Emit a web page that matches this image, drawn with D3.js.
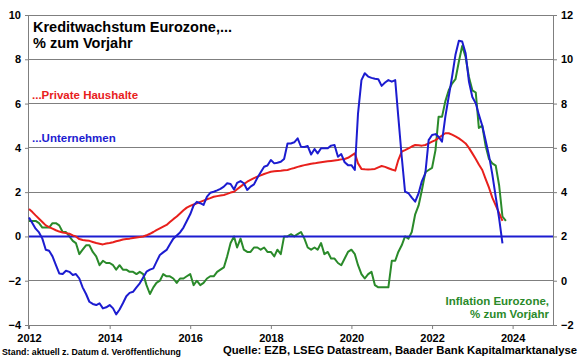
<!DOCTYPE html>
<html><head><meta charset="utf-8">
<script src="https://cdn.jsdelivr.net/npm/d3@7"></script>
<style>
html,body{margin:0;padding:0;background:#fff;}
svg{display:block;font-family:"Liberation Sans",Arial,sans-serif;font-weight:bold;}
</style></head>
<body><svg id="c" width="580" height="359"></svg>
<script>
// ---- DATA (monthly, starting Jan 2012) ----
const startMonth = "2012-01";
const households = [1.24,1.1,0.95,0.8,0.65,0.5,0.42,0.35,0.28,0.22,0.18,0.15,
0.12,0.05,0,-0.12,-0.16,-0.18,-0.2,-0.25,-0.3,-0.33,-0.36,-0.32,
-0.3,-0.26,-0.22,-0.18,-0.14,-0.12,-0.1,-0.07,-0.05,-0.03,0,0.05,
0.12,0.2,0.28,0.36,0.44,0.52,0.65,0.78,0.9,1.04,1.18,1.3,
1.38,1.44,1.5,1.56,1.62,1.68,1.73,1.79,1.82,1.85,1.87,1.92,
1.98,2.02,2.13,2.25,2.36,2.47,2.55,2.63,2.7,2.76,2.82,2.87,
2.92,2.94,2.96,2.97,2.99,3.0,3.05,3.09,3.14,3.18,3.22,3.25,
3.28,3.3,3.33,3.35,3.37,3.39,3.41,3.43,3.45,3.48,3.5,3.55,
3.65,3.75,3.3,3.05,3.03,3.02,3.03,3.05,3.12,3.18,3.14,3.08,
3.02,2.97,3.45,3.83,3.9,3.98,4.06,4.13,4.12,4.1,4.13,4.2,
4.28,4.35,4.45,4.56,4.66,4.66,4.6,4.52,4.43,4.32,4.2,4.0,
3.75,3.5,3.25,3.0,2.6,2.2,1.75,1.4,1.05,0.7];
const corporates = [0.86,0.6,0.35,0.18,-0.1,-0.6,-0.65,-0.9,-1.3,-1.67,-1.7,-1.55,
-1.6,-1.74,-1.7,-1.9,-2.3,-2.6,-2.95,-3.05,-3.1,-3.02,-3.25,-3.2,
-3.1,-3.25,-3.52,-3.3,-3.02,-2.7,-2.55,-2.5,-2.3,-2.12,-1.85,-1.59,
-1.5,-1.44,-1.15,-0.84,-0.72,-0.61,-0.35,-0.1,0.04,0.18,0.4,0.7,
1.0,1.4,1.56,1.5,1.42,1.8,1.97,2.02,2.08,2.15,2.25,2.4,
2.37,2.12,2.42,2.5,2.4,2.1,2.25,2.35,2.65,2.9,3.15,3.2,
3.45,3.3,3.33,3.37,3.5,4.2,4.2,4.25,4.43,4.05,4.04,4.08,
3.7,3.95,3.75,3.98,3.98,3.98,4.1,4.13,3.6,3.72,3.35,3.22,
3.22,3.0,5.56,7.06,7.37,7.22,7.16,7.12,7.1,6.8,6.95,7.06,
6.99,7.06,5.4,3.6,2.02,1.95,1.75,1.57,1.95,2.5,2.85,4.35,
4.58,4.62,4.5,4.28,5.4,6.31,7.2,8.2,8.84,8.8,8.27,7.0,
6.3,6.01,5.5,5.0,4.35,3.65,2.8,1.79,0.8,-0.31];
const inflation = [2.7,2.7,2.7,2.6,2.4,2.4,2.4,2.6,2.6,2.5,2.2,2.2,
2.0,1.8,1.7,1.2,1.4,1.6,1.6,1.3,1.1,0.7,0.9,0.8,
0.8,0.7,0.5,0.7,0.5,0.5,0.4,0.4,0.3,0.4,0.3,-0.2,
-0.6,-0.3,-0.1,0.0,0.3,0.2,0.2,0.1,-0.1,0.1,0.1,0.2,
0.3,-0.2,0.0,-0.2,-0.1,0.1,0.2,0.2,0.4,0.5,0.6,1.1,
1.7,2.0,1.5,1.9,1.4,1.3,1.3,1.5,1.5,1.4,1.5,1.3,
1.3,1.1,1.4,1.2,2.0,2.0,2.1,2.0,2.1,2.2,1.9,1.5,
1.4,1.5,1.4,1.7,1.2,1.3,1.0,1.0,0.8,0.7,1.0,1.3,
1.4,1.2,0.7,0.3,0.1,0.3,0.4,-0.2,-0.3,-0.3,-0.3,-0.3,
0.9,0.9,1.3,1.6,2.0,1.9,2.2,3.0,3.4,4.1,4.9,5.0,
5.1,5.9,7.4,7.4,8.1,8.6,8.9,9.1,9.9,10.6,10.1,9.2,
8.6,8.5,6.9,7.0,6.1,5.5,5.3,5.2,4.3,2.9,2.7];
const leftTicks = [-4,-2,0,2,4,6,8,10];
const rightTicks = [-2,0,2,4,6,8,10,12];
const yearTicks = [2012,2014,2016,2018,2020,2022,2024];
const targetLine = 2; // inflation target, right axis

// ---- SETUP ----
const svg = d3.select("#c");
const L = 29, R = 553, T = 15, B = 325;
const parse = d3.timeParse("%Y-%m");
const t0 = parse(startMonth);
const dateOf = i => d3.timeMonth.offset(t0, i);
const x = d3.scaleTime().domain([new Date(2012,0,1), new Date(2025,0,1)]).range([L, R]);
const yL = d3.scaleLinear().domain([-4,10]).range([B, T]);
const yR = d3.scaleLinear().domain([-2,12]).range([B, T]);

const gridC = "#7f7f7f";
const RED = "#e8201c", BLUE = "#1c1cd0", GREEN = "#2a8a2a";

// gridlines
svg.append("g").selectAll("line").data(leftTicks).join("line")
  .attr("x1", L).attr("x2", R).attr("y1", d => yL(d)).attr("y2", d => yL(d))
  .attr("stroke", gridC).attr("stroke-width", 1).attr("shape-rendering","crispEdges");

// axes
const axL = d3.axisLeft(yL).tickValues(leftTicks).tickSize(4).tickPadding(4).tickFormat(d3.format("d"));
const axR = d3.axisRight(yR).tickValues(rightTicks).tickSize(4).tickPadding(4).tickFormat(d3.format("d"));
const axB = d3.axisBottom(x).tickValues(yearTicks.map(y => new Date(y,0,1))).tickSize(4).tickPadding(5).tickFormat(d3.timeFormat("%Y"));

function style(g){
  g.select(".domain").attr("stroke", gridC);
  g.selectAll(".tick line").attr("stroke", gridC);
  g.selectAll("text").attr("fill","#000").style("font-size","11px").style("font-weight","bold")
   .style("font-family",'"Liberation Sans",Arial,sans-serif');
}
svg.append("g").attr("transform",`translate(${L},0)`).call(axL).call(style).call(g=>g.select(".domain").attr("d",`M-0.5,${T}V${B+4}`));
svg.append("g").attr("transform",`translate(${R},0)`).call(axR).call(style).call(g=>g.select(".domain").attr("d",`M0.5,${T}V${B}`));
svg.append("g").attr("transform",`translate(0,${B})`).call(axB).call(style).call(g=>g.select(".domain").remove());

// lines
const lineR = d3.line().x((d,i) => x(dateOf(i))).y(d => yR(d));
const lineL = d3.line().x((d,i) => x(dateOf(i))).y(d => yL(d));

svg.append("path").datum(inflation).attr("d", lineR).attr("fill","none").attr("stroke",GREEN).attr("stroke-width",2).attr("stroke-linejoin","round");
svg.append("line").attr("x1",L).attr("x2",R).attr("y1",yR(targetLine)).attr("y2",yR(targetLine)).attr("stroke",BLUE).attr("stroke-width",2);
svg.append("path").datum(households).attr("d", lineL).attr("fill","none").attr("stroke",RED).attr("stroke-width",2).attr("stroke-linejoin","round");
svg.append("path").datum(corporates).attr("d", lineL).attr("fill","none").attr("stroke",BLUE).attr("stroke-width",2).attr("stroke-linejoin","round");

// texts
svg.append("text").attr("x",33).attr("y",32).style("font-size","14.5px").text("Kreditwachstum Eurozone,...");
svg.append("text").attr("x",33).attr("y",48).style("font-size","14.5px").text("% zum Vorjahr");
svg.append("text").attr("x",32).attr("y",99).style("font-size","11.5px").attr("fill",RED).text("...Private Haushalte");
svg.append("text").attr("x",32).attr("y",142).style("font-size","11.5px").attr("fill",BLUE).text("...Unternehmen");
svg.append("text").attr("x",549).attr("y",305).attr("text-anchor","end").style("font-size","11.5px").attr("fill",GREEN).text("Inflation Eurozone,");
svg.append("text").attr("x",549).attr("y",318).attr("text-anchor","end").style("font-size","11.5px").attr("fill",GREEN).text("% zum Vorjahr");
svg.append("text").attr("x",2).attr("y",355).style("font-size","8.8px").text("Stand: aktuell z. Datum d. Veröffentlichung");
svg.append("text").attr("x",577).attr("y",354).attr("text-anchor","end").style("font-size","11.3px").text("Quelle: EZB, LSEG Datastream, Baader Bank Kapitalmarktanalyse");
</script></body></html>
